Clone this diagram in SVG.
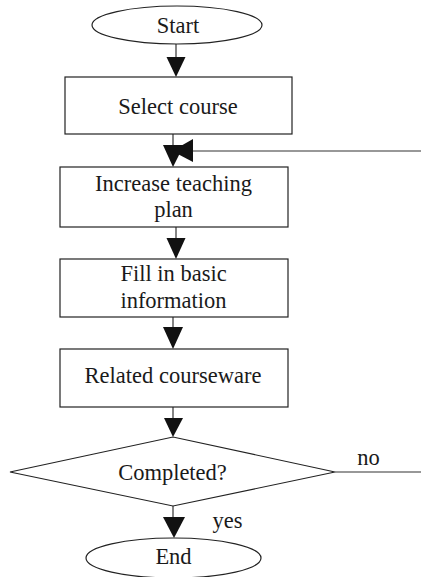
<svg xmlns="http://www.w3.org/2000/svg" width="421" height="577" viewBox="0 0 421 577">
<style>
.shape{fill:#fff;stroke:#222;stroke-width:1.2}
.line{fill:none;stroke:#333;stroke-width:1.2}
.head{fill:#111;stroke:none}
text{font-family:"Liberation Serif","Times New Roman",serif;font-size:22.5px;fill:#1a1a1a;text-anchor:middle}
</style>
<rect width="421" height="577" fill="#fff"/>
<g id="connectors">
<line class="line" x1="176" y1="44" x2="176" y2="60"/>
<polygon class="head" points="166.5,57 185.5,57 176,77"/>
<line class="line" x1="173" y1="134" x2="173" y2="148"/>
<polygon class="head" points="163,145 184,145 173,167"/>
<line class="line" x1="190" y1="151" x2="421" y2="151"/>
<polygon class="head" points="193,139 193,162 172,151"/>
<line class="line" x1="176" y1="227" x2="176" y2="240"/>
<polygon class="head" points="166.5,238 185.5,238 176,259"/>
<line class="line" x1="173" y1="317" x2="173" y2="330"/>
<polygon class="head" points="163,327 183,327 173,349"/>
<line class="line" x1="173" y1="407" x2="173" y2="420"/>
<polygon class="head" points="164,418 183,418 173,437"/>
<line class="line" x1="335" y1="472" x2="421" y2="472"/>
<line class="line" x1="173" y1="506" x2="173" y2="520"/>
<polygon class="head" points="163,517 185,517 174,538"/>
<text x="368.5" y="465">no</text>
<text x="227.5" y="528">yes</text>
</g>
<g id="start">
<ellipse class="shape" cx="177" cy="25" rx="85" ry="19"/>
<text x="178" y="33">Start</text>
</g>
<g id="select-course">
<rect class="shape" x="65" y="77" width="227" height="57"/>
<text x="178" y="114">Select course</text>
</g>
<g id="increase-plan">
<rect class="shape" x="60" y="167" width="228" height="60"/>
<text x="173.5" y="191">Increase teaching</text>
<text x="173.5" y="217">plan</text>
</g>
<g id="fill-info">
<rect class="shape" x="60" y="259" width="228" height="58"/>
<text x="173.5" y="281">Fill in basic</text>
<text x="173.5" y="308">information</text>
</g>
<g id="courseware">
<rect class="shape" x="60" y="349" width="228" height="58"/>
<text x="173" y="383">Related courseware</text>
</g>
<g id="completed">
<polygon class="shape" points="10,472 173,437 335,472 173,506"/>
<text x="172.5" y="480">Completed?</text>
</g>
<g id="end">
<ellipse class="shape" cx="173.5" cy="558" rx="87.5" ry="20"/>
<text x="173.5" y="564">End</text>
</g>
</svg>
